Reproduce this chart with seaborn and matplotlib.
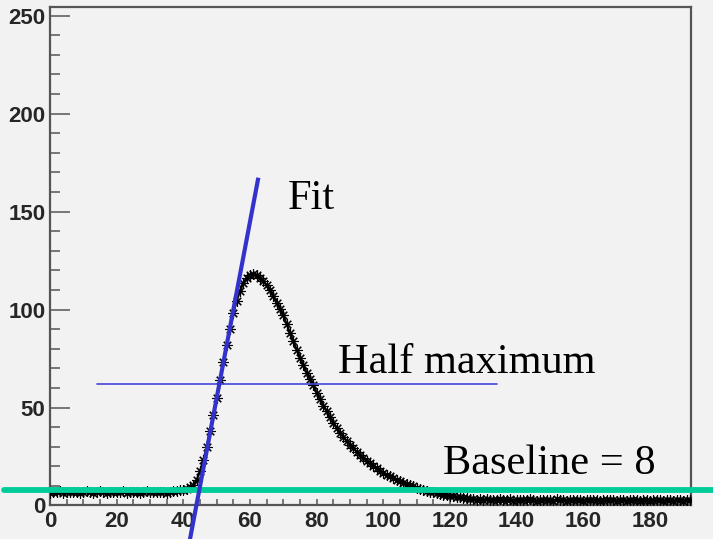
import numpy as np
import pandas as pd
import matplotlib
matplotlib.use("Agg")
import matplotlib.pyplot as plt
from matplotlib.ticker import MultipleLocator
import seaborn as sns

# --- pulse samples (one per time bin) ---
pre_pulse = [6.5, 7.0, 6.8, 7.2, 6.6, 6.9, 7.1, 6.7, 7.0, 6.4,
             6.8, 7.2, 6.9, 6.5, 7.0, 7.3, 6.8, 6.6, 7.1, 6.9,
             6.7, 7.0, 7.2, 6.6, 6.8, 7.1, 6.9, 6.5, 7.0, 7.2,
             6.8, 6.7, 7.0, 6.9, 7.1, 6.6, 7.0, 7.3]                # bins 0-37
pulse = [7.5, 7.8, 8.0, 8.5, 9.2, 10.5, 13.0, 17.5, 23.0, 30.0,       # bins 38-47
         38.0, 46.0, 55.0, 64.0, 73.0, 82.0, 90.0, 98.0, 104.5, 109.5,  # 48-57
         113.5, 116.3, 117.8, 118.2, 117.6, 116.2, 114.5, 112.3, 109.8, 106.8,  # 58-67
         103.6, 100.4, 97.0, 92.6, 88.0, 83.8, 79.5, 75.4, 71.5, 67.8,  # 68-77
         64.5, 61.5, 57.5, 54.2, 51.0, 48.0, 45.0, 42.2, 39.6, 37.2,    # 78-87
         35.0, 32.9, 31.0, 29.2, 27.5, 25.9, 24.3, 22.9, 21.5, 20.2,    # 88-97
         19.0, 17.8, 16.7, 15.7, 14.8, 13.9, 13.1, 12.3, 11.6, 10.9,    # 98-107
         10.3, 9.7, 9.1, 8.6, 8.1, 7.6, 7.1, 6.7, 6.3, 5.9,             # 108-117
         5.5, 5.2, 4.9, 4.6, 4.3, 4.1, 3.9, 3.7]                        # 118-125
tail = [3.5, 3.3, 3.0, 3.2, 2.8, 3.1, 2.9, 2.6, 3.0, 3.2,
        2.7, 2.9, 3.1, 2.5, 2.8, 3.0, 2.6, 2.9, 3.2, 2.7,
        2.4, 2.8, 3.0, 2.6, 2.9, 2.5, 3.1, 2.7, 2.8, 2.4,
        3.0, 2.6, 2.9, 2.7, 2.5, 3.0, 2.8, 2.6, 2.9, 2.4,
        2.7, 3.0, 2.6, 2.8, 2.5, 2.9, 2.7, 2.4, 2.8, 3.0,
        2.6, 2.5, 2.9, 2.7, 2.4, 2.8, 2.6, 3.0, 2.5, 2.7,
        2.9, 2.4, 2.6, 2.8, 2.5, 2.7, 2.6]                              # bins 126-192

signal = np.array(pre_pulse + pulse + tail)
df = pd.DataFrame({"t": np.arange(len(signal)), "signal": signal})

# --- analysis results ---
baseline = 8
half_max = 62
half_max_span = (14, 134)
fit_slope = 9.0
fit_intercept = -395.2
fit_span = (41.5, 62.5)

bg = "#f2f2f2"
frame = "#555555"
green = "#00cc99"
blue = "#3333cc"

sns.set_theme(style="ticks")
plt.rcParams["font.family"] = ["Liberation Sans", "DejaVu Sans"]

fig = plt.figure(figsize=(7.13, 5.39), dpi=100, facecolor=bg)
ax = fig.add_axes([0.0701, 0.0622, 0.8986, 0.9254], facecolor=bg)

sns.lineplot(data=df, x="t", y="signal", ax=ax, color="black", lw=1.6,
             marker=(8, 2, 0), markersize=7.5, markeredgewidth=0.8,
             markeredgecolor="black", zorder=3)

# baseline level, drawn across the full width of the pad
ax.axhline(baseline, xmin=-0.072, xmax=1.04, color=green, lw=4.2,
           clip_on=False, zorder=4)

# half-maximum level
ax.plot(half_max_span, [half_max, half_max], color="#4444dd", lw=1.2, zorder=4)

# linear fit of the leading edge
fx = np.array(fit_span)
ax.plot(fx, fit_slope * fx + fit_intercept, color=blue, lw=3.0,
        clip_on=False, zorder=5, solid_capstyle="butt")

serif = dict(family=["Liberation Serif", "DejaVu Serif"], size=30.5,
             color="black", va="baseline", ha="left")
ax.text(71.2, 151.2, "Fit", **serif)
ax.text(86.5, 67.6, "Half maximum", **serif)
ax.text(117.9, 16.0, "Baseline = 8", **serif)

ax.set_xlim(0, 192.2)
ax.set_ylim(0, 254.6)
ax.xaxis.set_major_locator(MultipleLocator(20))
ax.xaxis.set_minor_locator(MultipleLocator(5))
ax.yaxis.set_major_locator(MultipleLocator(50))
ax.yaxis.set_minor_locator(MultipleLocator(10))
ax.set_xlabel("")
ax.set_ylabel("")

ax.tick_params(axis="x", which="both", direction="in", length=4.3, width=1.1,
               color=frame, pad=4.0, labelsize=16)
ax.tick_params(axis="y", which="major", direction="in", length=14.4, width=1.1,
               color=frame, pad=3.2, labelsize=16)
ax.tick_params(axis="y", which="minor", direction="in", length=7.2, width=1.1,
               color=frame)
for lab in ax.get_xticklabels() + ax.get_yticklabels():
    lab.set_fontweight("bold")

for sp in ax.spines.values():
    sp.set_visible(True)
    sp.set_color(frame)
    sp.set_linewidth(1.6)

fig.savefig("out.png", dpi=100, facecolor=bg)
